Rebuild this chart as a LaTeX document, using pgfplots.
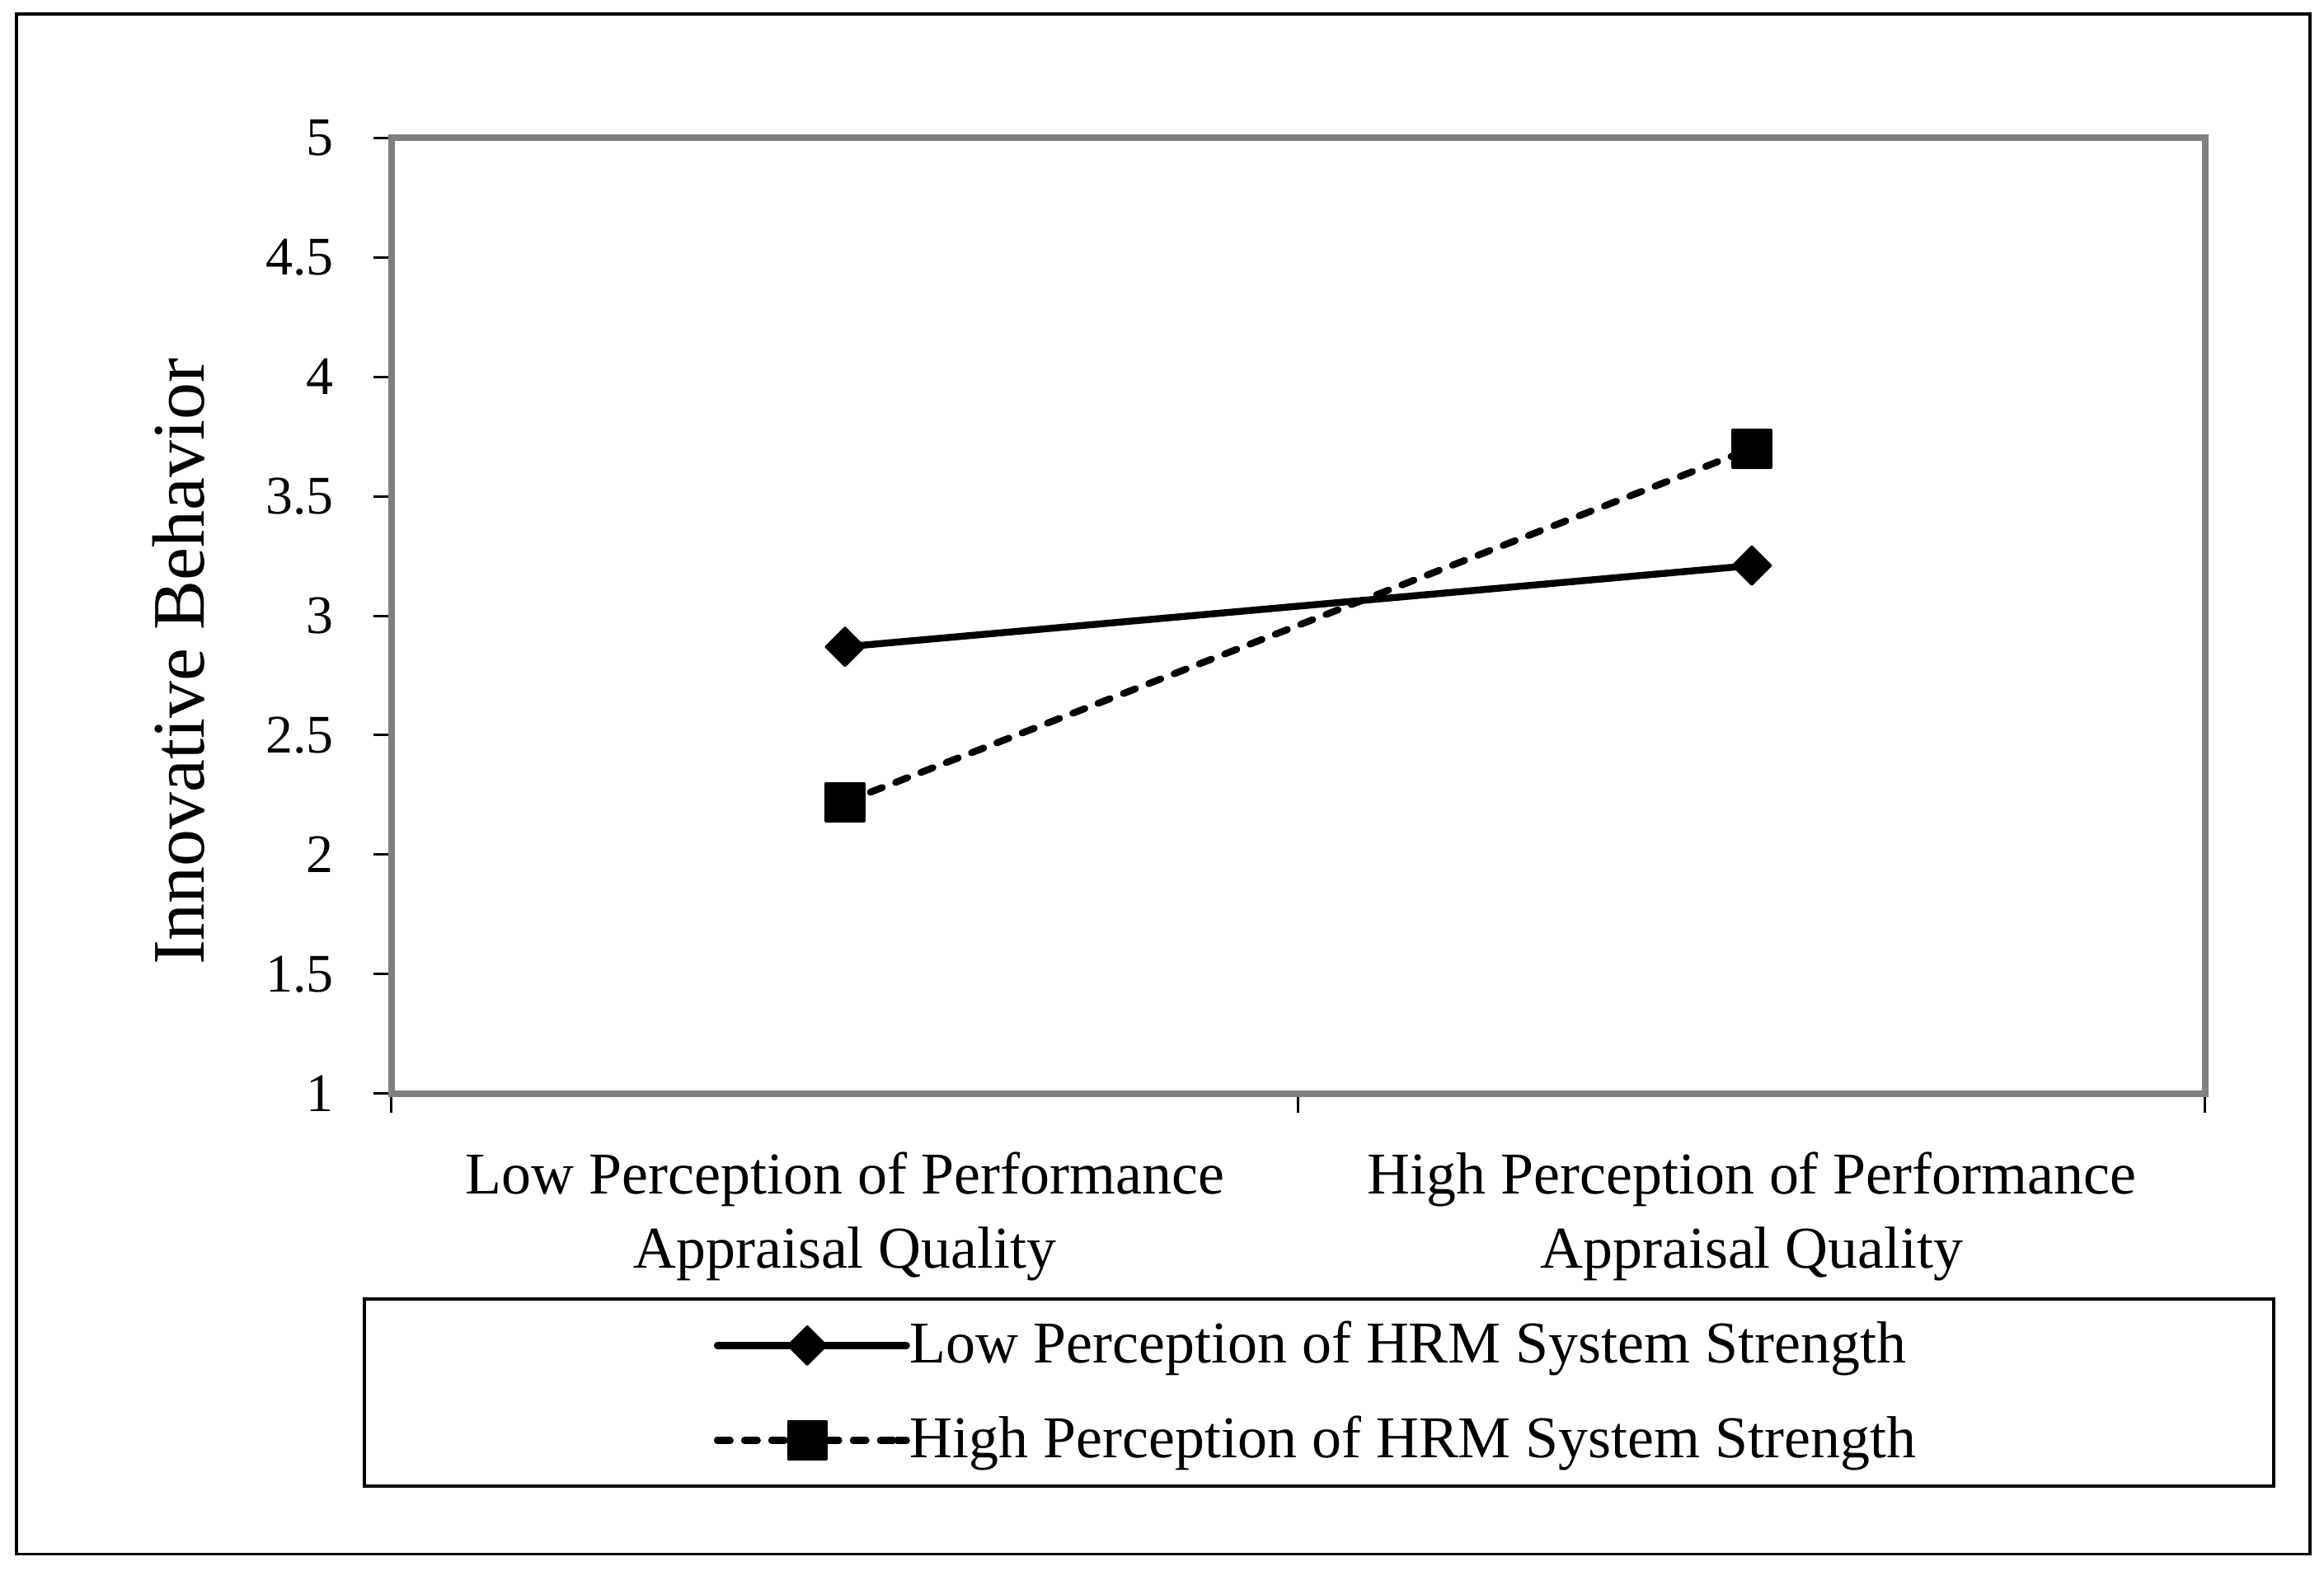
\documentclass[border=0pt]{standalone}
\usepackage{fontspec}
\setmainfont{Liberation Serif}
\usepackage{pgfplots}
\pgfplotsset{compat=1.18}
\definecolor{axgray}{RGB}{128,128,128}
\begin{document}
\begin{tikzpicture}
\useasboundingbox (0,0) rectangle (470.4bp,318bp);
\draw[line width=0.6bp] (3.33bp,3.39bp) rectangle (467.55bp,315.15bp);
\draw[line width=0.7bp] (73.74bp,17.1bp) rectangle (460.2bp,55.02bp);
\begin{axis}[
  at={(79.26bp,96.6bp)}, anchor=south west,
  scale only axis, width=367.1bp, height=193.5bp,
  xmin=0.5, xmax=2.5, ymin=1, ymax=5,
  ytick={1,1.5,2,2.5,3,3.5,4,4.5,5},
  xtick={1,2},
  xticklabels={{Low Perception of Performance\\Appraisal Quality},{High Perception of Performance\\Appraisal Quality}},
  minor xtick={0.5,1.5,2.5},
  tick align=outside,
  major tick length=3.6bp,
  minor tick length=3.8bp,
  x tick style={draw=none},
  minor x tick style={draw=black, line width=0.5bp},
  y tick style={draw=black, line width=0.5bp},
  xtick pos=bottom, ytick pos=left,
  axis line style={draw=axgray, line width=1.25bp},
  /pgf/number format/assume math mode=true,
  yticklabel style={font=\fontsize{11bp}{13bp}\selectfont, anchor=east, inner sep=0pt, xshift=-7.9bp},
  xticklabel style={font=\fontsize{12bp}{15bp}\selectfont, align=center, anchor=north, inner sep=0pt, yshift=-8bp},
  ylabel={Innovative Behavior},
  ylabel style={font=\fontsize{15bp}{17bp}\selectfont, at={(axis description cs:-0.1173,0.4519)}, anchor=center},
  legend style={draw=none, fill=none, at={(axis description cs:0.1777,-0.3132)}, anchor=west,
    inner sep=0pt, outer sep=0pt, row sep=8.2bp, column sep=0pt,
    nodes={inner sep=0pt, text height=9bp, text depth=2bp, font=\fontsize{12bp}{14bp}\selectfont}},
  legend cell align=left,
  legend image code/.code={%
    \draw[mark repeat=2, mark phase=2, #1] plot coordinates {(0bp,0bp) (18.2bp,0bp) (36.4bp,0bp)};
    \path (36.4bp,0bp) -- (38.3bp,0bp);
  },
]
\addplot[black, line width=1.4bp, line cap=round, mark=square*, mark size=2.76bp,
  mark options={solid, rotate=45, line width=0.4bp, line join=round}]
  coordinates {(1,2.87) (2,3.21)};
\addlegendentry{Low Perception of HRM System Strength}
\addplot[black, line width=1.4bp, line cap=round, dash pattern=on 2.6bp off 2.9bp, mark=square*, mark size=3.9bp,
  mark options={solid, line width=0.4bp, line join=round}]
  coordinates {(1,2.22) (2,3.70)};
\addlegendentry{High Perception of HRM System Strength}
\draw[black, line width=0.5bp] ([xshift=-0.4bp]rel axis cs:0,1) -- ([xshift=-0.4bp, yshift=-0.4bp]rel axis cs:0,0) -- ([yshift=-0.4bp]rel axis cs:1,0);
\end{axis}
\end{tikzpicture}
\end{document}
